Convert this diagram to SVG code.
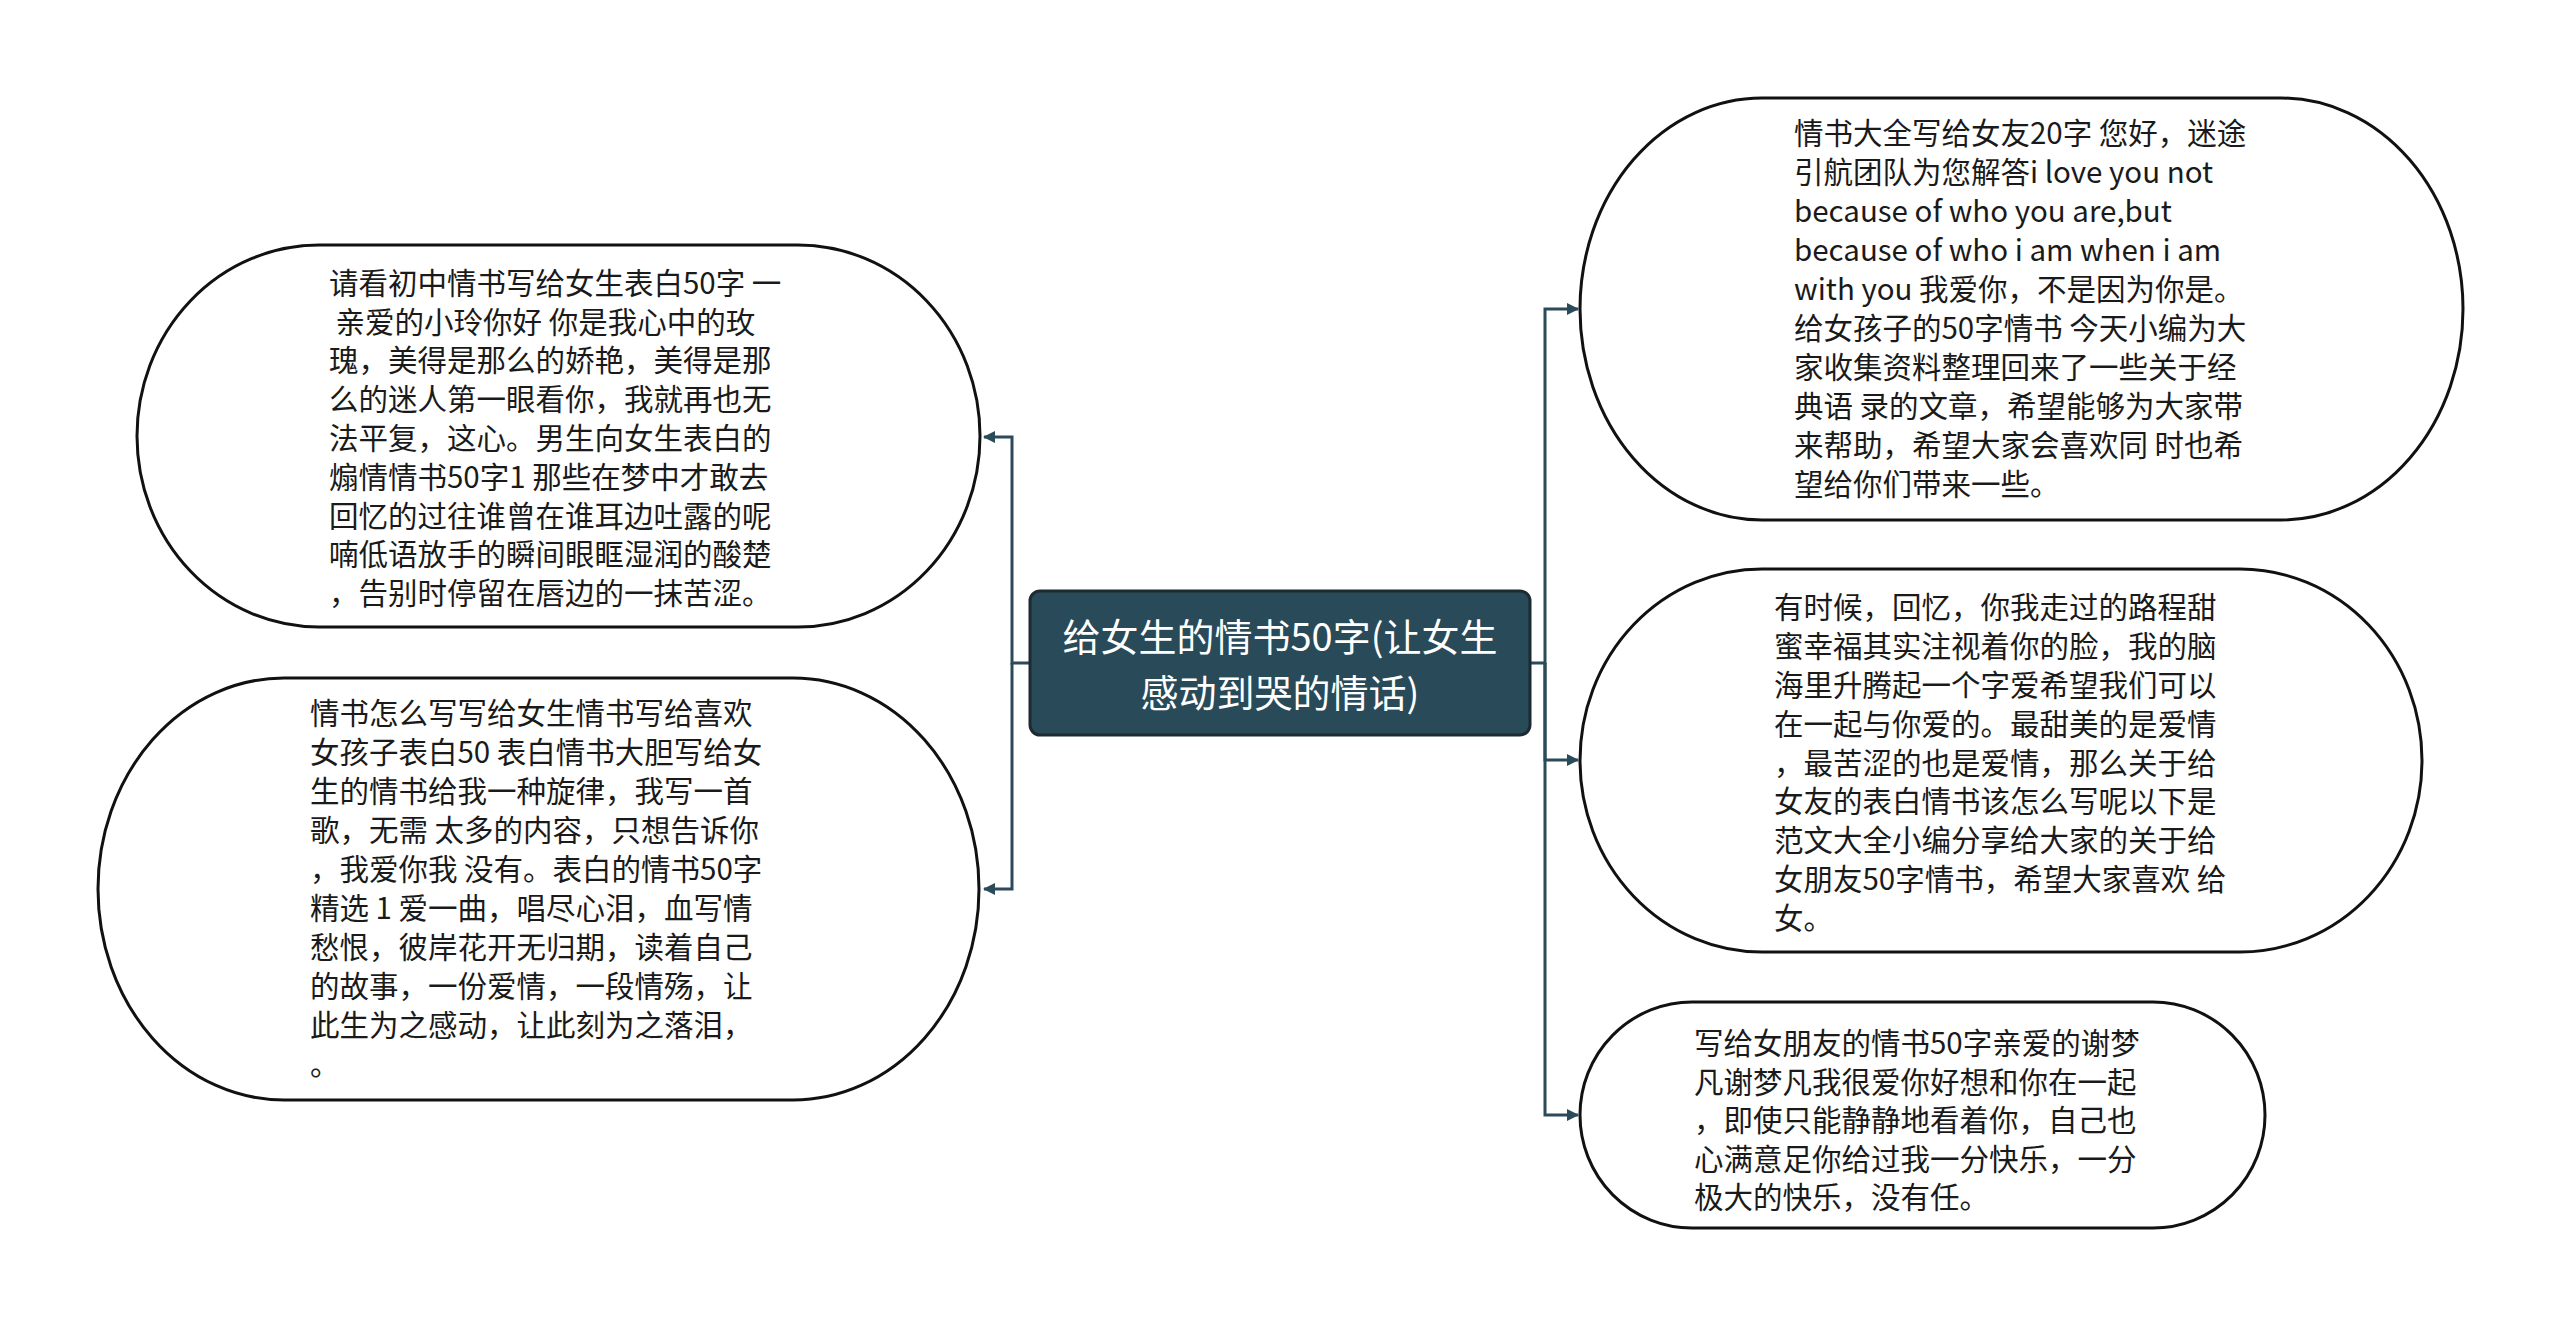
<svg xmlns="http://www.w3.org/2000/svg" width="2560" height="1326" viewBox="0 0 2560 1326">
<style>
.bg{fill:#ffffff}
.node{fill:#ffffff;stroke:#111111;stroke-width:3}
.root{fill:#294a59;stroke:#1c2a31;stroke-width:3}
.t{font-family:"Noto Sans CJK SC","Microsoft YaHei","Noto Sans",sans-serif;font-size:29.5px;fill:#1a1a1a;white-space:pre}
.rt{font-family:"Noto Sans CJK SC","Microsoft YaHei","Noto Sans",sans-serif;font-size:38px;fill:#ffffff;text-anchor:middle}
.conn{fill:none;stroke:#2b4b5a;stroke-width:3;marker-end:url(#arr)}
</style>
<defs>
<marker id="arr" markerUnits="userSpaceOnUse" markerWidth="12" markerHeight="12" viewBox="0 0 12 12" refX="11" refY="6" orient="auto">
<path d="M0,0 L12,6 L0,12 z" fill="#2b4b5a"/>
</marker>
</defs>
<rect class="bg" x="0" y="0" width="2560" height="1326"/>

<g id="connectors">
<path class="conn" d="M1030,663 H1012 V437 H984"/>
<path class="conn" d="M1012,663 V889 H984"/>
<path class="conn" d="M1530,663 H1545 V309 H1578"/>
<path class="conn" d="M1545,663 V760 H1578"/>
<path class="conn" d="M1545,663 V1115 H1578"/>
</g>

<g id="root">
<rect class="root" x="1030" y="591" width="500" height="144" rx="10" ry="10"/>
<text class="rt"><tspan x="1280" y="651">给女生的情书50字(让女生</tspan><tspan x="1280" y="707">感动到哭的情话)</tspan></text>
</g>

<g id="node-left-1">
<rect class="node" x="137" y="245" width="843" height="382" rx="182" ry="191"/>
<text class="t" x="329" y="294">请看初中情书写给女生表白50字 一</text>
<text class="t" x="329" y="333"> 亲爱的小玲你好 你是我心中的玫</text>
<text class="t" x="329" y="371">瑰，美得是那么的娇艳，美得是那</text>
<text class="t" x="329" y="410">么的迷人第一眼看你，我就再也无</text>
<text class="t" x="329" y="449">法平复，这心。男生向女生表白的</text>
<text class="t" x="329" y="488">煽情情书50字1 那些在梦中才敢去</text>
<text class="t" x="329" y="527">回忆的过往谁曾在谁耳边吐露的呢</text>
<text class="t" x="329" y="565">喃低语放手的瞬间眼眶湿润的酸楚</text>
<text class="t" x="329" y="604">，告别时停留在唇边的一抹苦涩。</text>
</g>

<g id="node-left-2">
<rect class="node" x="98" y="678" width="881" height="422" rx="186" ry="211"/>
<text class="t" x="310" y="724">情书怎么写写给女生情书写给喜欢</text>
<text class="t" x="310" y="763">女孩子表白50 表白情书大胆写给女</text>
<text class="t" x="310" y="802">生的情书给我一种旋律，我写一首</text>
<text class="t" x="310" y="841">歌，无需 太多的内容，只想告诉你</text>
<text class="t" x="310" y="880">，我爱你我 没有。表白的情书50字</text>
<text class="t" x="310" y="919">精选 1 爱一曲，唱尽心泪，血写情</text>
<text class="t" x="310" y="958">愁恨，彼岸花开无归期，读着自己</text>
<text class="t" x="310" y="997">的故事，一份爱情，一段情殇，让</text>
<text class="t" x="310" y="1036">此生为之感动，让此刻为之落泪，</text>
<text class="t" x="310" y="1075">。</text>
</g>

<g id="node-right-1">
<rect class="node" x="1580" y="98" width="883" height="422" rx="182" ry="211"/>
<text class="t" x="1794" y="144">情书大全写给女友20字 您好，迷途</text>
<text class="t" x="1794" y="183">引航团队为您解答i love you not</text>
<text class="t" x="1794" y="222">because of who you are,but</text>
<text class="t" x="1794" y="261">because of who i am when i am</text>
<text class="t" x="1794" y="300">with you 我爱你，不是因为你是。</text>
<text class="t" x="1794" y="339">给女孩子的50字情书 今天小编为大</text>
<text class="t" x="1794" y="378">家收集资料整理回来了一些关于经</text>
<text class="t" x="1794" y="417">典语 录的文章，希望能够为大家带</text>
<text class="t" x="1794" y="456">来帮助，希望大家会喜欢同 时也希</text>
<text class="t" x="1794" y="495">望给你们带来一些。</text>
</g>

<g id="node-right-2">
<rect class="node" x="1580" y="569" width="842" height="383" rx="182" ry="191.5"/>
<text class="t" x="1774" y="618">有时候，回忆，你我走过的路程甜</text>
<text class="t" x="1774" y="657">蜜幸福其实注视着你的脸，我的脑</text>
<text class="t" x="1774" y="696">海里升腾起一个字爱希望我们可以</text>
<text class="t" x="1774" y="735">在一起与你爱的。最甜美的是爱情</text>
<text class="t" x="1774" y="774">，最苦涩的也是爱情，那么关于给</text>
<text class="t" x="1774" y="812">女友的表白情书该怎么写呢以下是</text>
<text class="t" x="1774" y="851">范文大全小编分享给大家的关于给</text>
<text class="t" x="1774" y="890">女朋友50字情书，希望大家喜欢 给</text>
<text class="t" x="1774" y="929">女。</text>
</g>

<g id="node-right-3">
<rect class="node" x="1580" y="1002" width="685" height="226" rx="112" ry="113"/>
<text class="t" x="1694" y="1054">写给女朋友的情书50字亲爱的谢梦</text>
<text class="t" x="1694" y="1093">凡谢梦凡我很爱你好想和你在一起</text>
<text class="t" x="1694" y="1131">，即使只能静静地看着你，自己也</text>
<text class="t" x="1694" y="1170">心满意足你给过我一分快乐，一分</text>
<text class="t" x="1694" y="1208">极大的快乐，没有任。</text>
</g>
</svg>
